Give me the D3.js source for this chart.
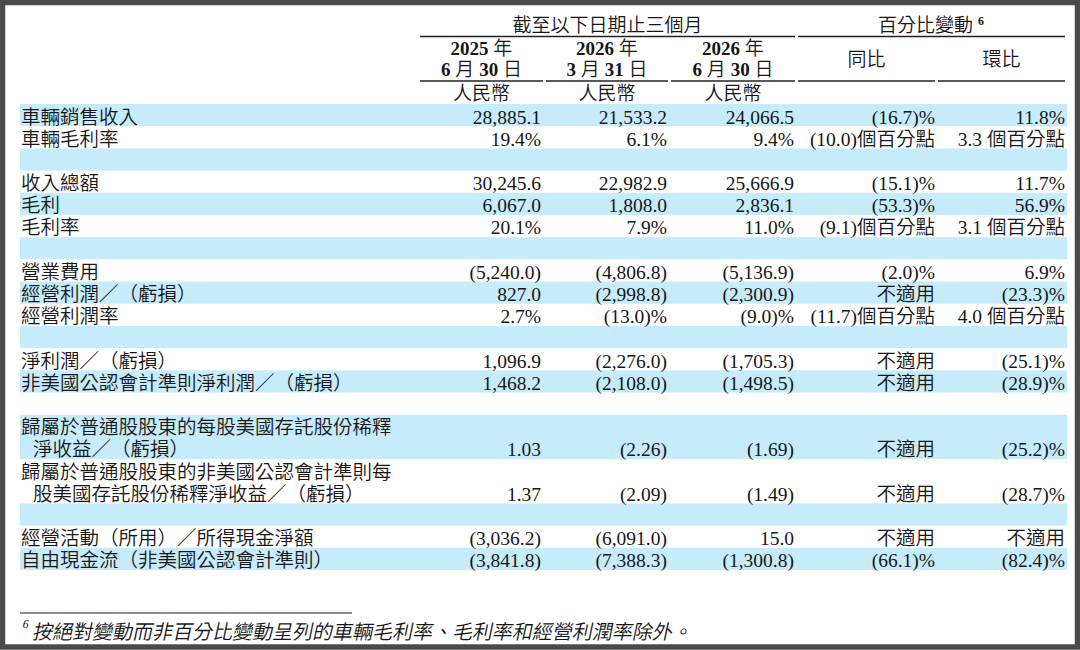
<!DOCTYPE html>
<html>
<head>
<meta charset="utf-8">
<script src="https://cdn.jsdelivr.net/npm/d3@7"></script>
<style>
  body { margin: 0; background: #fff; }
  svg text { fill: #161616; }
</style>
</head>
<body>
<div id="container"></div>
<script>
// table data
const rowLabels = [
  ["車輛銷售收入"], ["車輛毛利率"], [],
  ["收入總額"], ["毛利"], ["毛利率"], [],
  ["營業費用"], ["經營利潤／（虧損）"], ["經營利潤率"], [],
  ["淨利潤／（虧損）"], ["非美國公認會計準則淨利潤／（虧損）"], [],
  ["歸屬於普通股股東的每股美國存託股份稀釋", "淨收益／（虧損）"],
  ["歸屬於普通股股東的非美國公認會計準則每", "股美國存託股份稀釋淨收益／（虧損）"], [],
  ["經營活動（所用）／所得現金淨額"], ["自由現金流（非美國公認會計準則）"]
];
const q2_2025 = ["28,885.1","19.4%","","30,245.6","6,067.0","20.1%","","(5,240.0)","827.0","2.7%","","1,096.9","1,468.2","","1.03","1.37","","(3,036.2)","(3,841.8)"];
const q1_2026 = ["21,533.2","6.1%","","22,982.9","1,808.0","7.9%","","(4,806.8)","(2,998.8)","(13.0)%","","(2,276.0)","(2,108.0)","","(2.26)","(2.09)","","(6,091.0)","(7,388.3)"];
const q2_2026 = ["24,066.5","9.4%","","25,666.9","2,836.1","11.0%","","(5,136.9)","(2,300.9)","(9.0)%","","(1,705.3)","(1,498.5)","","(1.69)","(1.49)","","15.0","(1,300.8)"];
const yoy = ["(16.7)%","(10.0)個百分點","","(15.1)%","(53.3)%","(9.1)個百分點","","(2.0)%","不適用","(11.7)個百分點","","不適用","不適用","","不適用","不適用","","不適用","(66.1)%"];
const qoq = ["11.8%","3.3 個百分點","","11.7%","56.9%","3.1 個百分點","","6.9%","(23.3)%","4.0 個百分點","","(25.1)%","(28.9)%","","(25.2)%","(28.7)%","","不適用","(82.4)%"];

const colKeys = ["q2_2025","q1_2026","q2_2026","yoy","qoq"];
const colYears = ["2025","2026","2026"];
const colDates = [["6","30"],["3","31"],["6","30"]];
const pctHeads = ["同比","環比"];
const groupHeads = ["截至以下日期止三個月","百分比變動"];
const currency = "人民幣";
const footnote = "按絕對變動而非百分比變動呈列的車輛毛利率、毛利率和經營利潤率除外。";

const columns = [q2_2025, q1_2026, q2_2026, yoy, qoq];

const width = 1080, height = 650;
const font = "'Liberation Serif', 'Noto Sans CJK TC', serif";
const fs = 19.5;

const svg = d3.select("#container").append("svg")
  .attr("width", width).attr("height", height)
  .style("font-family", font);

// row positions in line units
const units = rowLabels.map(l => Math.max(1, l.length));
const starts = d3.cumsum([0].concat(units)).slice(0, units.length);
const totalUnits = d3.sum(units);
const y = d3.scaleLinear().domain([0, totalUnits]).range([104, 570]);

// column right edges / spans
const xRight = d3.scaleOrdinal().domain(colKeys).range([541, 667, 794, 935, 1065]);
const xSpan = d3.scaleOrdinal().domain(colKeys)
  .range([[420, 543], [546, 668], [671, 795], [798, 935], [938, 1065]]);

const rows = rowLabels.map((lab, i) => ({
  i, lab, start: starts[i], n: units[i],
  vals: columns.map(c => c[i])
}));

// alternating shading
svg.append("g").selectAll("rect")
  .data(rows.filter(r => r.i % 2 === 0))
  .join("rect")
  .attr("x", 20).attr("width", 1047)
  .attr("y", r => y(r.start))
  .attr("height", r => y(r.start + r.n) - y(r.start))
  .attr("fill", "#c6ecfb");

// labels
const labelG = svg.append("g").style("font-size", fs + "px").style("font-weight", 350);
rows.forEach(r => {
  r.lab.forEach((t, k) => {
    labelG.append("text")
      .attr("x", k === 0 ? 21 : 33)
      .attr("y", y(r.start + k) + 19.5)
      .text(t);
  });
});

// values
const valG = svg.append("g").style("font-size", fs + "px").style("font-weight", 350)
  .attr("text-anchor", "end");
rows.forEach(r => {
  r.vals.forEach((v, c) => {
    if (!v) return;
    valG.append("text")
      .attr("x", xRight(colKeys[c]))
      .attr("y", y(r.start + r.n - 1) + 19.5)
      .text(v);
  });
});

// header
const head = svg.append("g").style("font-size", "19px").style("font-weight", 350)
  .attr("text-anchor", "middle");
const line = (x1, x2, yy) => head.append("line")
  .attr("x1", x1).attr("x2", x2).attr("y1", yy).attr("y2", yy)
  .attr("stroke", "#222").attr("stroke-width", 1.3);

head.append("text").attr("x", 607.5).attr("y", 32).text(groupHeads[0]);
const g2 = head.append("text").attr("x", 931).attr("y", 32);
g2.append("tspan").text(groupHeads[1] + " ");
g2.append("tspan").style("font-size", "12px").style("font-weight", 700)
  .attr("dy", -7).text("6");
line(420, 795, 36.5);
line(798, 1065, 36.5);

colYears.forEach((yr, c) => {
  const [a, b] = xSpan(colKeys[c]);
  const cx = (a + b) / 2;
  const t1 = head.append("text").attr("x", cx).attr("y", 55);
  t1.append("tspan").style("font-weight", 700).text(yr);
  t1.append("tspan").text(" 年");
  const t2 = head.append("text").attr("x", cx).attr("y", 76);
  t2.append("tspan").style("font-weight", 700).text(colDates[c][0]);
  t2.append("tspan").text(" 月 ");
  t2.append("tspan").style("font-weight", 700).text(colDates[c][1]);
  t2.append("tspan").text(" 日");
  line(a, b, 81);
  head.append("text").attr("x", cx).attr("y", 100).text(currency);
});
pctHeads.forEach((h, k) => {
  const [a, b] = xSpan(colKeys[3 + k]);
  head.append("text").attr("x", (a + b) / 2).attr("y", 66).text(h);
  line(a, b, 81);
});

// footnote (slanted like the italic original)
svg.append("line").attr("x1", 20).attr("x2", 352).attr("y1", 613).attr("y2", 613)
  .attr("stroke", "#222").attr("stroke-width", 1.2);
svg.append("text").attr("transform", "translate(22,628) skewX(-12)")
  .style("font-size", "12px").text("6");
svg.append("text").attr("transform", "translate(32,639) skewX(-12)")
  .style("font-size", "20px").style("font-weight", 350)
  .text(footnote);

// frame
svg.append("rect").attr("x", 2.5).attr("y", 2.5)
  .attr("width", width - 5).attr("height", height - 5.5)
  .attr("fill", "none").attr("stroke", "#4a4a4a").attr("stroke-width", 5.5);
</script>
</body>
</html>
